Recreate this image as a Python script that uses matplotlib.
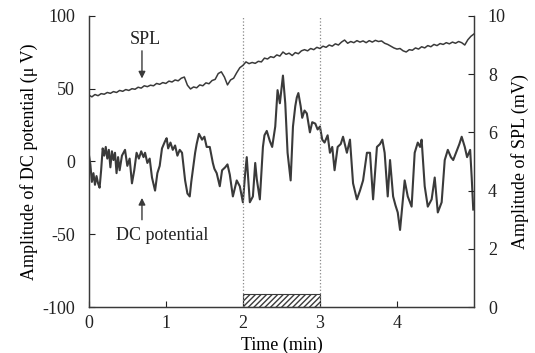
import matplotlib
matplotlib.use("Agg")
import matplotlib.pyplot as plt
from matplotlib.patches import Rectangle

plt.rcParams["font.family"] = ["Liberation Serif", "DejaVu Serif"]
plt.rcParams["axes.unicode_minus"] = False

# DC potential trace (min, uV)
dc_time = [0.00, 0.02, 0.04, 0.06, 0.08, 0.10, 0.12, 0.14, 0.16, 0.18,
           0.20, 0.22, 0.24, 0.26, 0.28, 0.30, 0.32, 0.34, 0.36, 0.38,
           0.40, 0.43, 0.47, 0.50, 0.53, 0.56, 0.59, 0.62, 0.65, 0.68,
           0.71, 0.73, 0.76, 0.79, 0.82, 0.86, 0.89, 0.92, 0.95, 0.99,
           1.01, 1.03, 1.06, 1.09, 1.12, 1.15, 1.18, 1.21, 1.25, 1.28,
           1.31, 1.33, 1.35, 1.38, 1.40, 1.43, 1.47, 1.50, 1.53, 1.57,
           1.61, 1.63, 1.66, 1.70, 1.73, 1.77, 1.80, 1.83, 1.87, 1.92,
           1.96, 2.00, 2.03, 2.05, 2.09, 2.13, 2.16, 2.18, 2.22, 2.26,
           2.28, 2.31, 2.35, 2.38, 2.42, 2.45, 2.48, 2.52, 2.55, 2.58,
           2.62, 2.65, 2.68, 2.70, 2.72, 2.75, 2.77, 2.80, 2.83, 2.87,
           2.90, 2.94, 2.97, 3.00, 3.03, 3.06, 3.10, 3.13, 3.16, 3.19,
           3.23, 3.27, 3.30, 3.35, 3.39, 3.43, 3.48, 3.52, 3.56, 3.61,
           3.65, 3.69, 3.74, 3.78, 3.81, 3.84, 3.88, 3.91, 3.95, 3.98,
           4.01, 4.04, 4.08, 4.10, 4.14, 4.19, 4.23, 4.27, 4.30, 4.32,
           4.36, 4.40, 4.45, 4.49, 4.53, 4.58, 4.62, 4.66, 4.70, 4.73,
           4.78, 4.81, 4.84, 4.88, 4.91, 4.95, 4.97, 4.99]
dc_value = [5, -2, -14, -8, -16, -10, -15, -18, -6, 9,
            4, 10, 2, 8, -4, 7, 1, 6, -8, 3,
            -6, 4, 8, -3, 2, -15, -6, 6, 2, 7,
            3, 6, -1, 2, -11, -20, -8, -3, 9, 14,
            16, 9, 13, 8, 11, 4, 8, 6, -13, -22,
            -24, -14, -6, 6, 12, 19, 15, 17, 10, 10,
            -1, -5, -8, -17, -6, -4, -2, -9, -24, -13,
            -17, -28, -8, 3, -28, -24, -1, -12, -26, 10,
            18, 21, 14, 10, 24, 49, 40, 59, 40, 6,
            -13, 24, 38, 44, 47, 38, 30, 35, 33, 20,
            27, 26, 22, 24, 15, 13, 18, 6, 10, -6,
            10, 12, 17, 6, 15, -15, -26, -20, -13, 6,
            6, -26, 10, 12, 15, 6, -24, 1, -24, -30,
            -35, -47, -24, -13, -24, -31, 6, 13, 10, 15,
            -17, -31, -26, -11, -35, -28, 1, 8, 3, 1,
            8, 12, 17, 10, 3, 8, -11, -33]

# SPL trace (min, mV)
spl_time = [0.00, 0.04, 0.08, 0.12, 0.16, 0.20, 0.24, 0.28, 0.32, 0.36,
            0.40, 0.44, 0.48, 0.52, 0.56, 0.60, 0.64, 0.68, 0.72, 0.76,
            0.80, 0.84, 0.88, 0.92, 0.96, 1.00, 1.04, 1.08, 1.12, 1.16,
            1.20, 1.24, 1.28, 1.32, 1.36, 1.40, 1.44, 1.48, 1.52, 1.56,
            1.60, 1.64, 1.68, 1.72, 1.76, 1.80, 1.84, 1.88, 1.92, 1.96,
            2.00, 2.04, 2.08, 2.12, 2.16, 2.20, 2.24, 2.28, 2.32, 2.36,
            2.40, 2.44, 2.48, 2.52, 2.56, 2.60, 2.64, 2.68, 2.72, 2.76,
            2.80, 2.84, 2.88, 2.92, 2.96, 3.00, 3.04, 3.08, 3.12, 3.16,
            3.20, 3.24, 3.28, 3.32, 3.36, 3.40, 3.44, 3.48, 3.52, 3.56,
            3.60, 3.64, 3.68, 3.72, 3.76, 3.80, 3.84, 3.88, 3.92, 3.96,
            4.00, 4.04, 4.08, 4.12, 4.16, 4.20, 4.24, 4.28, 4.32, 4.36,
            4.40, 4.44, 4.48, 4.52, 4.56, 4.60, 4.64, 4.68, 4.72, 4.76,
            4.80, 4.84, 4.88, 4.92, 4.96, 5.00]
spl_value = [7.28, 7.22, 7.30, 7.26, 7.33, 7.31, 7.37, 7.34, 7.40, 7.37,
             7.44, 7.41, 7.47, 7.44, 7.50, 7.48, 7.55, 7.52, 7.60, 7.57,
             7.62, 7.60, 7.68, 7.65, 7.71, 7.68, 7.76, 7.73, 7.80, 7.77,
             7.86, 7.90, 7.62, 7.49, 7.56, 7.53, 7.63, 7.60, 7.70, 7.67,
             7.78, 7.82, 8.02, 8.08, 7.90, 7.63, 7.80, 7.86, 8.05, 8.22,
             8.30, 8.42, 8.36, 8.40, 8.37, 8.44, 8.42, 8.55, 8.52, 8.60,
             8.57, 8.66, 8.62, 8.76, 8.68, 8.72, 8.64, 8.74, 8.70, 8.80,
             8.84, 8.80, 8.88, 8.84, 8.92, 8.88, 8.96, 8.92, 9.00, 8.96,
             9.04, 9.00, 9.10, 9.17, 9.06, 9.12, 9.08, 9.15, 9.10, 9.14,
             9.08, 9.15, 9.10, 9.16, 9.12, 9.14, 9.06, 9.02, 8.96, 8.90,
             8.86, 8.88, 8.80, 8.76, 8.84, 8.82, 8.90, 8.86, 8.94, 8.90,
             8.98, 8.94, 9.02, 8.98, 9.05, 9.02, 9.08, 9.04, 9.10, 9.06,
             9.12, 9.08, 9.00, 9.18, 9.30, 9.38]

x_ticks = [0, 1, 2, 3, 4]
left_ticks = [-100, -50, 0, 50, 100]
right_ticks = [0, 2, 4, 6, 8, 10]
stim_start, stim_end = 2, 3

ink = "#3a3a3a"
fs = 13

fig = plt.figure(figsize=(5.35, 3.53), dpi=100)
ax = fig.add_axes([0.166, 0.130, 0.720, 0.825])
ax2 = ax.twinx()

ax.plot(dc_time, dc_value, color=ink, lw=1.5)
ax2.plot(spl_time, spl_value, color=ink, lw=1.1)

ax.set_xlim(0, 5)
ax.set_ylim(-100, 100)
ax2.set_ylim(0, 10)

# stimulus period
for t in (stim_start, stim_end):
    ax.axvline(t, color="#888888", ls=":", lw=0.9)
ax.add_patch(Rectangle((stim_start, -100), stim_end - stim_start, 9,
                       facecolor="white", edgecolor=ink, hatch="//////", lw=0.8))

ax.text(0.73, 84, "SPL", ha="center", va="center", fontsize=fs, color="#222222")
ax.annotate("", xy=(0.69, 57), xytext=(0.69, 76),
            arrowprops=dict(arrowstyle="-|>", color=ink, lw=1.0, shrinkA=0, shrinkB=0))
ax.text(0.95, -51, "DC potential", ha="center", va="center", fontsize=fs, color="#222222")
ax.annotate("", xy=(0.69, -25), xytext=(0.69, -40),
            arrowprops=dict(arrowstyle="-|>", color=ink, lw=1.0, shrinkA=0, shrinkB=0))

for a in (ax, ax2):
    a.spines["top"].set_visible(False)
    for s in a.spines.values():
        s.set_color(ink)
        s.set_linewidth(0.9)
    a.tick_params(direction="in", length=4, width=0.8, colors="#222222", labelsize=fs)

ax.set_xticks(x_ticks)
ax.set_yticks(left_ticks)
ax2.set_yticks(right_ticks)
ax.tick_params(axis="x", pad=6)
ax.tick_params(axis="y", pad=10)
ax2.tick_params(axis="y", pad=10)

ax.set_xlabel("Time (min)", fontsize=fs, labelpad=3)
ax.set_ylabel("Amplitude of DC potential (μ V)", fontsize=fs, labelpad=3)
ax2.set_ylabel("Amplitude of SPL (mV)", fontsize=fs, labelpad=4)

fig.savefig("out.png", dpi=100)
